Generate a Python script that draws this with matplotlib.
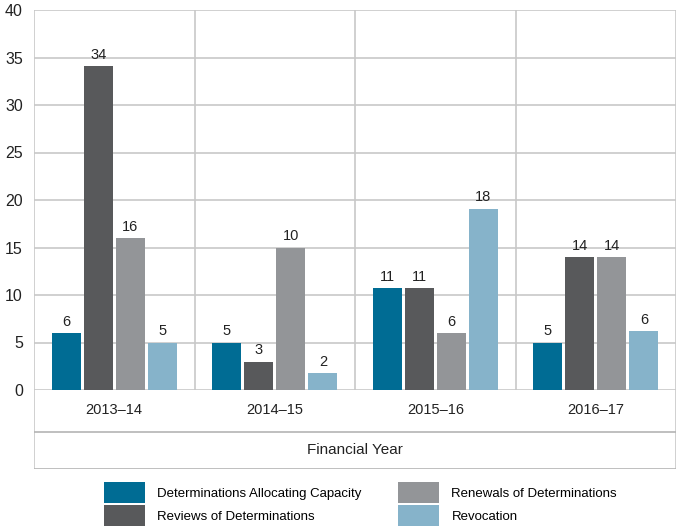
import numpy as np
import matplotlib
matplotlib.use('Agg')
import matplotlib.pyplot as plt
from matplotlib.patches import Patch

plt.rcParams['font.family'] = ['Liberation Sans', 'DejaVu Sans']

years = ['2013–14', '2014–15', '2015–16', '2016–17']
series_names = ['Determinations Allocating Capacity', 'Reviews of Determinations',
                'Renewals of Determinations', 'Revocation']
# bar heights as drawn in the picture
allocating = [6, 5, 10.7, 5]
reviews = [34.1, 3, 10.7, 14]
renewals = [16, 15, 6, 14]
revocation = [5, 1.8, 19.1, 6.2]
# numbers printed above the bars
allocating_lbl = [6, 5, 11, 5]
reviews_lbl = [34, 3, 11, 14]
renewals_lbl = [16, 10, 6, 14]
revocation_lbl = [5, 2, 18, 6]

colors = ['#006c94', '#58595b', '#939598', '#86b3ca']
grid_col = '#c8c8c8'
line_col = '#b4b4b4'

W, H = 680, 527
fig = plt.figure(figsize=(W / 100, H / 100), dpi=100)

# main plot: x 34..676 px, y 10..390 px
ax = fig.add_axes([34 / W, (H - 390) / H, 642 / W, 380 / H])
x = np.arange(len(years))
values = [allocating, reviews, renewals, revocation]
labels = [allocating_lbl, reviews_lbl, renewals_lbl, revocation_lbl]
width = 0.18
step = 0.2
for i in range(4):
    pos = x + (i - 1.5) * step
    bars = ax.bar(pos, values[i], width, color=colors[i], zorder=3)
    for b, lab in zip(bars, labels[i]):
        ax.annotate(str(lab), (b.get_x() + b.get_width() / 2, b.get_height()),
                    xytext=(0, 3), textcoords='offset points',
                    ha='center', va='bottom', fontsize=10.5, color='#222222')

ax.set_xlim(-0.5, len(years) - 0.5)
ax.set_ylim(0, 40)
ax.set_yticks(range(0, 41, 5))
ax.set_xticks([])
ax.tick_params(axis='y', length=0, pad=8, labelsize=11.5, labelcolor='#222222')
for yv in range(0, 41, 5):
    ax.axhline(yv, color=grid_col, lw=1.2, zorder=1)
for xv in np.arange(-0.5, len(years), 1.0):
    ax.axvline(xv, color=grid_col, lw=1.2, zorder=1)
for s in ax.spines.values():
    s.set_visible(False)

# table under the plot: y 390..469 px
tb = fig.add_axes([34 / W, (H - 469) / H, 642 / W, 79 / H])
tb.set_xlim(-0.5, len(years) - 0.5)
tb.set_ylim(0, 79)
tb.set_xticks([])
tb.set_yticks([])
for s in tb.spines.values():
    s.set_visible(False)
tb.axvline(-0.5, color=grid_col, lw=1.2)
tb.axvline(len(years) - 0.5, color=grid_col, lw=1.2)
tb.axhline(37.3, color=line_col, lw=1.2)
tb.axhline(0.5, color=line_col, lw=1.2)
for xi, yr in zip(x, years):
    tb.text(xi, 58.5, yr, ha='center', va='center', fontsize=10.5, color='#222222')
tb.text((len(years) - 1) / 2, 19, 'Financial Year', ha='center', va='center',
        fontsize=11, color='#222222')

# legend in two columns
handles = [Patch(facecolor=c) for c in colors]
for col, x0 in enumerate([104, 398]):
    leg = fig.legend(handles[col * 2:col * 2 + 2], series_names[col * 2:col * 2 + 2],
                     loc='upper left', bbox_to_anchor=(x0 / W, (H - 482) / H),
                     frameon=False, fontsize=9.5, borderpad=0, borderaxespad=0,
                     handlelength=3.1, handleheight=2.05, handletextpad=0.95,
                     labelspacing=0.2)

fig.savefig('out.png', dpi=100)
